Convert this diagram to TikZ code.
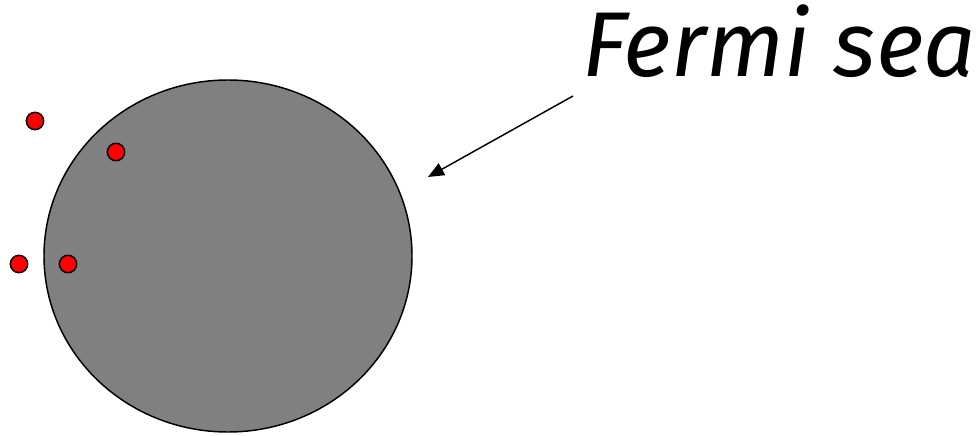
\documentclass[tikz,border=0pt]{standalone}
\usepackage{fontspec}
\newfontfamily\labelfont{Fira Sans}
\usetikzlibrary{positioning,arrows.meta,shapes.geometric}

\begin{document}
\begin{tikzpicture}[
    x=0.75pt, y=-0.75pt,
    >=Triangle,
    sea/.style      = {ellipse, draw=black, line width=1.1pt, fill=black!50,
                       minimum width=276pt, minimum height=264pt, inner sep=0pt},
    particle/.style = {circle, draw=black, line width=1.1pt, fill=red,
                       minimum size=13pt, inner sep=0pt},
    label/.style    = {font=\labelfont\itshape\fontsize{69}{69}\selectfont, inner sep=0pt,
                       anchor=base west},
    pointer/.style  = {line width=1.1pt, ->, >={Triangle[length=12pt,width=10pt]}},
]
\useasboundingbox (0,0) rectangle (980,435);

% the Fermi sea
\node[sea] (fs) at (228,256) {};

% excited particles
\node[particle] (p1) at (35,121)  {};
\node[particle] (p2) at (116,152) {};
\node[particle] (p3) at (19,264)  {};
\node[particle] (p4) at (68,264)  {};

% label and arrow
\node[label] (fermi) at (582,76) {Fermi sea};
\coordinate (tail) at (573,96);
\coordinate (tip)  at (428,177);
\draw[pointer] (tail) -- (tip);
\end{tikzpicture}
\end{document}
